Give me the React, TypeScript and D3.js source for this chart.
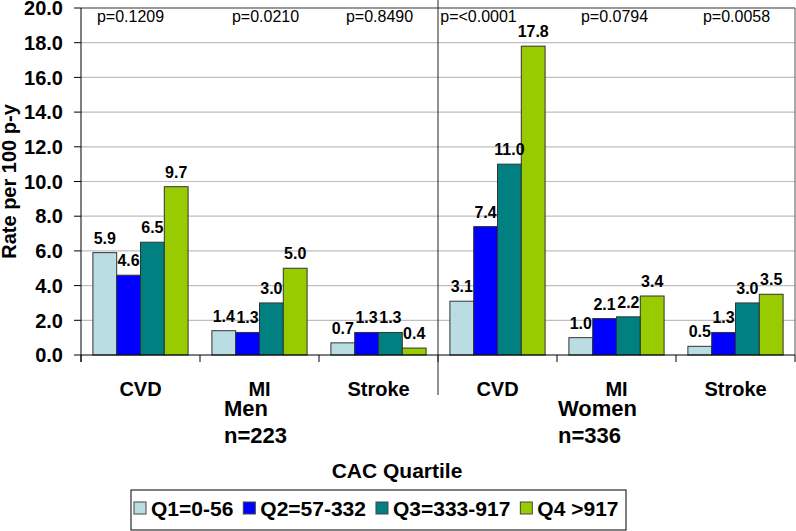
import { useEffect, useRef } from 'react'
import * as d3 from 'd3'

// groups along the x axis (Men: 0-2, Women: 3-5)
const categories = ['CVD', 'MI', 'Stroke', 'CVD', 'MI', 'Stroke']
const quartiles = ['Q1=0-56', 'Q2=57-332', 'Q3=333-917', 'Q4 >917']
const colors = ['#BADDE3', '#0000FF', '#008080', '#99CC00']

// rate per 100 p-y, one row per group, Q1..Q4
const q1 = [5.9, 1.4, 0.7, 3.1, 1.0, 0.5]
const q2 = [4.6, 1.3, 1.3, 7.4, 2.1, 1.3]
const q3 = [6.5, 3.0, 1.3, 11.0, 2.2, 3.0]
const q4 = [9.7, 5.0, 0.4, 17.8, 3.4, 3.5]
const pValues = ['p=0.1209', 'p=0.0210', 'p=0.8490', 'p=<0.0001', 'p=0.0794', 'p=0.0058']
const yTicks = [0, 2, 4, 6, 8, 10, 12, 14, 16, 18, 20]
const sexLabels = [
  { name: 'Men', n: 'n=223' },
  { name: 'Women', n: 'n=336' },
]

// layout only
const pNudge = [-10, 6, 1, -19, -2, 1]
const sexX = [224, 558]

const W = 796, H = 531
const FONT = '"Liberation Sans", Arial, Helvetica, sans-serif'

export default function App() {
  const svgRef = useRef<SVGSVGElement>(null)

  useEffect(() => {
    const svg = svgRef.current
    if (!svg) return
    const sel = d3.select(svg)
    sel.selectAll('*').remove()

    const left = 81, right = 795, top = 8, bottom = 355
    const series = [q1, q2, q3, q4]

    const x0 = d3.scaleBand<number>().domain(d3.range(categories.length)).range([left, right])
    const x1 = d3.scaleBand<number>().domain(d3.range(quartiles.length))
      .range([0, x0.bandwidth()]).paddingInner(0).paddingOuter(0.5)
    const y = d3.scaleLinear().domain([0, 20]).range([bottom, top])

    const g = sel.append('g').attr('font-family', FONT)

    // gridlines
    g.append('g').selectAll('line').data(yTicks.filter(t => t > 0)).join('line')
      .attr('x1', left).attr('x2', right)
      .attr('y1', d => y(d)).attr('y2', d => y(d))
      .attr('stroke', '#BEBEBE').attr('stroke-width', 1.2)

    // frame top/right
    g.append('path')
      .attr('d', `M${left},${y(20)}H${right}V${bottom}`)
      .attr('fill', 'none').attr('stroke', '#555').attr('stroke-width', 1)

    // bars
    const groups = g.append('g').selectAll('g').data(d3.range(categories.length)).join('g')
      .attr('transform', i => `translate(${x0(i)},0)`)
    groups.selectAll('rect')
      .data(i => series.map((s, q) => ({ q, v: s[i] })))
      .join('rect')
      .attr('x', d => x1(d.q)!)
      .attr('width', x1.bandwidth())
      .attr('y', d => y(d.v))
      .attr('height', d => y(0) - y(d.v))
      .attr('fill', d => colors[d.q])
      .attr('stroke', '#333').attr('stroke-width', 1)

    // value labels
    groups.selectAll('text')
      .data(i => series.map((s, q) => ({ q, v: s[i] })))
      .join('text')
      .attr('x', d => x1(d.q)! + x1.bandwidth() / 2)
      .attr('y', d => y(d.v) - 9)
      .attr('text-anchor', 'middle')
      .attr('font-size', 16).attr('font-weight', 'bold')
      .text(d => d.v.toFixed(1))

    // p values
    g.append('g').selectAll('text').data(pValues).join('text')
      .attr('x', (d, i) => x0(i)! + x0.bandwidth() / 2 + pNudge[i])
      .attr('y', 22)
      .attr('text-anchor', 'middle').attr('font-size', 16)
      .text(d => d)

    // y axis
    g.append('line').attr('x1', left).attr('x2', left).attr('y1', top).attr('y2', bottom + 7)
      .attr('stroke', '#000')
    g.append('g').selectAll('line').data(yTicks).join('line')
      .attr('x1', left - 7).attr('x2', left)
      .attr('y1', d => y(d)).attr('y2', d => y(d)).attr('stroke', '#000')
    g.append('g').selectAll('text').data(yTicks).join('text')
      .attr('x', 63).attr('y', d => y(d)).attr('dy', '0.36em')
      .attr('text-anchor', 'end').attr('font-size', 20).attr('font-weight', 'bold')
      .text(d => d.toFixed(1))
    g.append('text')
      .attr('transform', `translate(16,${(top + bottom) / 2}) rotate(-90)`)
      .attr('text-anchor', 'middle').attr('font-size', 20).attr('font-weight', 'bold')
      .text('Rate per 100 p-y')

    // x axis
    g.append('line').attr('x1', left).attr('x2', right).attr('y1', bottom).attr('y2', bottom)
      .attr('stroke', '#000')
    g.append('g').selectAll('line').data(d3.range(categories.length + 1)).join('line')
      .attr('x1', i => left + i * x0.step()).attr('x2', i => left + i * x0.step())
      .attr('y1', bottom).attr('y2', bottom + 7).attr('stroke', '#000')
    g.append('g').selectAll('text').data(categories).join('text')
      .attr('x', (d, i) => x0(i)! + x0.bandwidth() / 2).attr('y', 396)
      .attr('text-anchor', 'middle').attr('font-size', 20).attr('font-weight', 'bold')
      .text(d => d)

    // men / women separator
    const sepX = x0(3)!
    g.append('line').attr('x1', sepX).attr('x2', sepX).attr('y1', 0).attr('y2', 395)
      .attr('stroke', '#222').attr('stroke-width', 1)

    sexLabels.forEach((s, i) => {
      g.append('text').attr('x', sexX[i]).attr('y', 416)
        .attr('font-size', 22).attr('font-weight', 'bold').text(s.name)
      g.append('text').attr('x', sexX[i]).attr('y', 443)
        .attr('font-size', 22).attr('font-weight', 'bold').text(s.n)
    })

    g.append('text').attr('x', 397).attr('y', 478)
      .attr('text-anchor', 'middle').attr('font-size', 21).attr('font-weight', 'bold')
      .text('CAC Quartile')

    // legend
    const lg = g.append('g')
    lg.append('rect').attr('x', 131).attr('y', 490).attr('width', 495).attr('height', 40)
      .attr('fill', '#fff').attr('stroke', '#000')
    let cx = 134
    quartiles.forEach((q, i) => {
      lg.append('rect').attr('x', cx).attr('y', 502).attr('width', 12).attr('height', 12)
        .attr('fill', colors[i]).attr('stroke', '#444')
      const t = lg.append('text').attr('x', cx + 17).attr('y', 516)
        .attr('font-size', 21).attr('font-weight', 'bold').text(q)
      const w = (t.node() as SVGTextElement).getComputedTextLength()
      cx += 17 + w + 10
    })
  }, [])

  return (
    <svg ref={svgRef} width={W} height={H}
      style={{ position: 'absolute', left: 0, top: 0, background: '#fff' }} />
  )
}
